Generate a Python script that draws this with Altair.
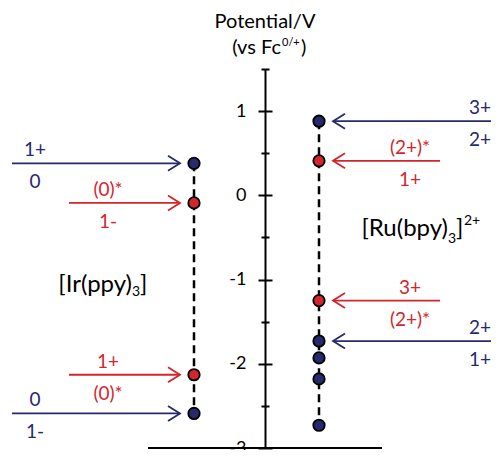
import altair as alt
import pandas as pd

# ---------------- data ----------------
ir_potentials = [0.38, -0.09, -2.13, -2.59]
ir_states = ["ground", "excited", "excited", "ground"]
ru_potentials = [0.88, 0.41, -1.25, -1.73, -1.93, -2.18, -2.73]
ru_states = ["ground", "excited", "excited", "ground", "ground", "ground", "ground"]

arrow_complex = ["Ir", "Ir", "Ir", "Ir", "Ru", "Ru", "Ru", "Ru"]
arrow_potentials = [0.38, -0.09, -2.13, -2.59, 0.88, 0.41, -1.25, -1.73]
arrow_states = ["ground", "excited", "excited", "ground", "ground", "excited", "excited", "ground"]
arrow_upper = ["1+", "(0)*", "1+", "0", "3+", "(2+)*", "3+", "2+"]
arrow_lower = ["0", "1-", "(0)*", "1-", "2+", "1+", "(2+)*", "1+"]

major_ticks = [1, 0, -1, -2, -3]
minor_ticks = [1.5, 0.5, -0.5, -1.5, -2.5]
y_domain = [-3, 1.5]

# ---------------- layout / style ----------------
NAVY = "#27296d"
RED = "#d3262c"
FONT = "Lato"
W, H = 234, 379
x_domain = [-117, 117]          # horizontal layout units, potential axis at 0
column_x = {"Ir": -71, "Ru": 54}
arrow_tip = {"Ir": -85, "Ru": 68}
arrow_tail = {("Ir", "ground"): -253, ("Ir", "excited"): -196,
              ("Ru", "ground"): 262, ("Ru", "excited"): 175}
label_x = {("Ir", "ground"): -230, ("Ir", "excited"): -157,
           ("Ru", "ground"): 215, ("Ru", "excited"): 145}
head_path = {"Ir": "M -1.6 -1 L 0 0 L -1.6 1", "Ru": "M 1.6 -1 L 0 0 L 1.6 1"}

# ---------------- tables ----------------
dots = pd.DataFrame({
    "complex": ["Ir"] * len(ir_potentials) + ["Ru"] * len(ru_potentials),
    "potential": ir_potentials + ru_potentials,
    "state": ir_states + ru_states,
})
dots["x"] = dots["complex"].map(column_x)

cols = dots.groupby("complex").agg(top=("potential", "max"), bottom=("potential", "min")).reset_index()
cols["x"] = cols["complex"].map(column_x)

arrows = pd.DataFrame({
    "complex": arrow_complex, "potential": arrow_potentials, "state": arrow_states,
    "upper": arrow_upper, "lower": arrow_lower,
})
arrows["tip"] = arrows["complex"].map(arrow_tip)
arrows["tail"] = [arrow_tail[(c, s)] for c, s in zip(arrows["complex"], arrows["state"])]
arrows["lx"] = [label_x[(c, s)] for c, s in zip(arrows["complex"], arrows["state"])]
arrows["head"] = arrows["complex"].map(head_path)

ann_center = pd.DataFrame({"text": ["Potential/V"], "x": [0], "y": [2.058], "fs": [20]})
ann_right = pd.DataFrame({
    "text": ["(vs Fc", "[Ir(ppy)", "[Ru(bpy)"],
    "x": [16, -133, 183], "y": [1.749, -1.065, -0.40], "fs": [20, 24, 24]})
ann_left = pd.DataFrame({
    "text": ["0/+", ")", "3", "]", "3", "]", "2+"],
    "x": [17, 36, -133, -125, 183, 191, 199],
    "y": [1.809, 1.749, -1.148, -1.065, -0.522, -0.40, -0.31],
    "fs": [11, 20, 14, 24, 14, 24, 14]})

# ---------------- scales & axes ----------------
xs = alt.Scale(domain=x_domain, nice=False, zero=False)
ys = alt.Scale(domain=y_domain, nice=False, zero=False)
cs = alt.Scale(domain=["ground", "excited"], range=[NAVY, RED])

left_major = alt.Axis(orient="left", offset=-117, values=major_ticks, tickSize=7, tickWidth=2,
                      tickColor="black", domainColor="black", domainWidth=2, grid=False,
                      labelFont=FONT, labelFontSize=18, labelColor="black", labelPadding=12,
                      labelExpr="toString(datum.value)", title=None)
left_minor = alt.Axis(orient="left", offset=-117, values=minor_ticks, tickSize=4, tickWidth=2,
                      tickColor="black", domain=False, labels=False, grid=False, title=None)
right_major = alt.Axis(orient="right", offset=-117, values=major_ticks, tickSize=7, tickWidth=2,
                       tickColor="black", domain=False, labels=False, grid=False, title=None)
right_minor = alt.Axis(orient="right", offset=-117, values=minor_ticks, tickSize=4, tickWidth=2,
                       tickColor="black", domain=False, labels=False, grid=False, title=None)

# ---------------- layers ----------------
baseline = alt.Chart(pd.DataFrame({"k": [0]})).mark_rule(color="black", strokeWidth=2).encode(
    x=alt.X(datum=x_domain[0], type="quantitative", scale=xs, axis=None),
    x2=alt.X2(datum=x_domain[1]),
    y=alt.Y(datum=y_domain[0], type="quantitative", scale=ys, axis=None),
)

dashed = alt.Chart(cols).mark_rule(strokeDash=[8, 5], strokeWidth=2.5, color="black").encode(
    x=alt.X("x:Q", scale=xs, axis=None),
    y=alt.Y("top:Q", scale=ys, axis=left_minor),
    y2="bottom:Q",
)

points = alt.Chart(dots).mark_circle(size=130, stroke="black", strokeWidth=1.8, opacity=1).encode(
    x=alt.X("x:Q", scale=xs, axis=None),
    y=alt.Y("potential:Q", scale=ys, axis=left_major),
    color=alt.Color("state:N", scale=cs, legend=None),
)

shafts = alt.Chart(arrows).mark_rule(strokeWidth=1.8).encode(
    x=alt.X("tail:Q", scale=xs, axis=None),
    x2="tip:Q",
    y=alt.Y("potential:Q", scale=ys, axis=right_major),
    color=alt.Color("state:N", scale=cs, legend=None),
)

heads = alt.Chart(arrows).mark_point(size=225, strokeWidth=1.8, filled=False, opacity=1).encode(
    x=alt.X("tip:Q", scale=xs, axis=None),
    y=alt.Y("potential:Q", scale=ys, axis=right_minor),
    shape=alt.Shape("head:N", scale=None),
    color=alt.Color("state:N", scale=cs, legend=None),
)

upper = alt.Chart(arrows).mark_text(font=FONT, fontSize=19, dy=-13, baseline="middle").encode(
    x=alt.X("lx:Q", scale=xs, axis=None),
    y=alt.Y("potential:Q", scale=ys, axis=None),
    text="upper:N",
    color=alt.Color("state:N", scale=cs, legend=None),
)
lower = alt.Chart(arrows).mark_text(font=FONT, fontSize=19, dy=19, baseline="middle").encode(
    x=alt.X("lx:Q", scale=xs, axis=None),
    y=alt.Y("potential:Q", scale=ys, axis=None),
    text="lower:N",
    color=alt.Color("state:N", scale=cs, legend=None),
)


def ann(df, align):
    return alt.Chart(df).mark_text(font=FONT, align=align, baseline="middle", color="black").encode(
        x=alt.X("x:Q", scale=xs, axis=None),
        y=alt.Y("y:Q", scale=ys, axis=None),
        text="text:N",
        size=alt.Size("fs:Q", scale=None, legend=None),
    )


chart = alt.layer(
    dashed, points, shafts, heads, upper, lower,
    ann(ann_center, "center"), ann(ann_right, "right"), ann(ann_left, "left"), baseline,
).resolve_axis(y="independent").properties(
    width=W, height=H,
    padding={"left": 140, "top": 61, "right": 109, "bottom": 2},
    autosize=alt.AutoSizeParams(type="none"),
).configure_view(stroke=None)

chart.save("out.html", embed_options={"renderer": "svg", "actions": False})
